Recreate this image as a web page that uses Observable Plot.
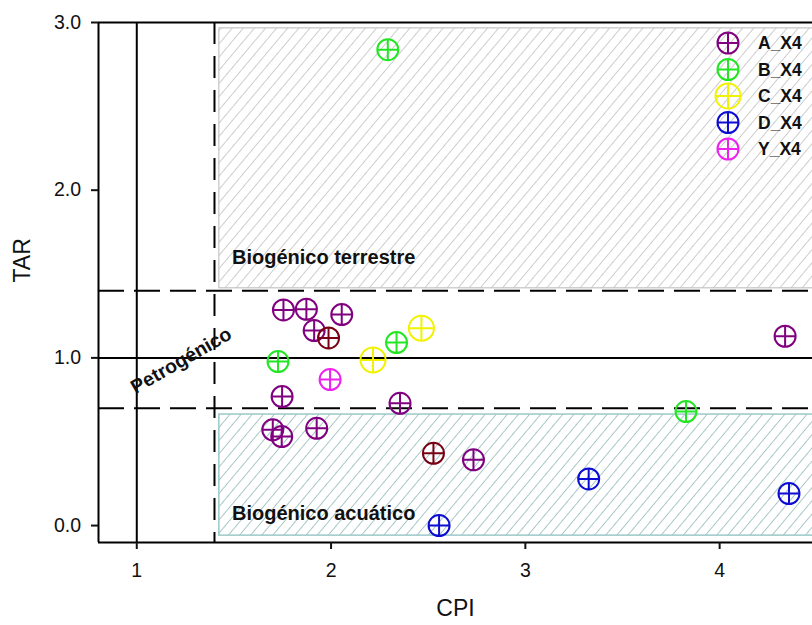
<!DOCTYPE html>
<html><head><meta charset="utf-8">
<script src="https://cdn.jsdelivr.net/npm/d3@7"></script>
<script src="https://cdn.jsdelivr.net/npm/@observablehq/plot@0.6"></script>
<style>
html,body{margin:0;padding:0;background:#fff;}
#wrap{position:relative;width:812px;height:625px;overflow:hidden;background:#fff;}
#legend{position:absolute;left:0;top:0;}
</style></head><body><div id="wrap"></div>
<script>
// ---- data ----
const seriesNames = ["A_X4", "B_X4", "C_X4", "D_X4", "Y_X4"];
const A_cpi = [1.755, 1.873, 2.055, 1.913, 1.748, 2.355, 1.700, 1.746, 1.926, 2.733, 4.337];
const A_tar = [1.286, 1.290, 1.258, 1.163, 0.769, 0.729, 0.571, 0.531, 0.580, 0.392, 1.129];
const A2_cpi = [1.987, 2.527];   // darker (overlapping) A_X4 samples
const A2_tar = [1.119, 0.431];
const B_cpi = [2.292, 1.727, 2.337, 3.827];
const B_tar = [2.838, 0.978, 1.091, 0.680];
const C_cpi = [2.216, 2.465];
const C_tar = [0.988, 1.177];
const D_cpi = [2.556, 3.326, 4.357];
const D_tar = [0.000, 0.278, 0.191];
const Y_cpi = [1.995];
const Y_tar = [0.871];

const xTicks = [1, 2, 3, 4];
const yTicks = [0, 1, 2, 3];
const xTickLabels = ["1", "2", "3", "4"];
const yTickLabels = ["0.0", "1.0", "2.0", "3.0"];

// reference lines
const solidX = [1.0];
const dashedX = [1.4];
const solidY = [1.0];
const dashedY = [1.4, 0.7];

// zones
const zoneNames = ["terrestre", "acuatico"];
const zoneX1 = [1.425, 1.425];
const zoneX2 = [4.7, 4.7];
const zoneY1 = [1.415, -0.06];
const zoneY2 = [2.965, 0.662];

// annotation labels
const noteText = ["Biogénico terrestre", "Biogénico acuático", "Petrogénico"];
const noteCpi = [1.49, 1.49, 1.229];
const noteTar = [1.60, 0.072, 0.984];

// ---- styles ----
const colors = {A_X4: "#800080", A_X4b: "#7a0014", B_X4: "#22e622", C_X4: "#f2f200", D_X4: "#0c0cd2", Y_X4: "#ee22ee"};
const radii = {A_X4: 10.5, A_X4b: 10.5, B_X4: 10.5, C_X4: 12.5, D_X4: 10.5, Y_X4: 10.5};

const zip = (s, xs, ys) => xs.map((x, i) => ({series: s, cpi: x, tar: ys[i]}));
const pts = [
  ...zip("A_X4", A_cpi, A_tar),
  ...zip("A_X4b", A2_cpi, A2_tar),
  ...zip("B_X4", B_cpi, B_tar),
  ...zip("C_X4", C_cpi, C_tar),
  ...zip("D_X4", D_cpi, D_tar),
  ...zip("Y_X4", Y_cpi, Y_tar)
];
const zones = zoneNames.map((n, i) => ({name: n, x1: zoneX1[i], x2: zoneX2[i], y1: zoneY1[i], y2: zoneY2[i]}));
const notes = noteText.map((t, i) => ({t, cpi: noteCpi[i], tar: noteTar[i]}));
const xLab = xTicks.map((v, i) => ({v, t: xTickLabels[i]}));
const yLab = yTicks.map((v, i) => ({v, t: yTickLabels[i]}));

const circlePlus = {
  draw(ctx, size) {
    const r = Math.sqrt(size / Math.PI);
    ctx.moveTo(r, 0);
    ctx.arc(0, 0, r, 0, 2 * Math.PI);
    ctx.moveTo(-r, 0); ctx.lineTo(r, 0);
    ctx.moveTo(0, -r); ctx.lineTo(0, r);
  }
};

const font = "'Liberation Sans', Arial, sans-serif";
const xDom = [0.803, 4.478];
const yDom = [-0.101, 3.0];

const plot = Plot.plot({
  width: 812, height: 625,
  marginLeft: 98, marginRight: 0, marginTop: 22, marginBottom: 83,
  style: {fontFamily: font, fontSize: "19px", color: "#111", background: "transparent", overflow: "visible"},
  x: {domain: xDom},
  y: {domain: yDom},
  r: {type: "identity"},
  color: {type: "identity"},
  marks: [
    Plot.rect(zones.slice(0, 1), {x1: "x1", x2: "x2", y1: "y1", y2: "y2", fill: "url(#hatchGray)", stroke: "#c4c4c4", strokeWidth: 1.2}),
    Plot.rect(zones.slice(1, 2), {x1: "x1", x2: "x2", y1: "y1", y2: "y2", fill: "url(#hatchTeal)", stroke: "#9cc8c8", strokeWidth: 1.5}),
    Plot.ruleX(solidX, {stroke: "#000", strokeWidth: 2}),
    Plot.ruleY(solidY, {stroke: "#000", strokeWidth: 2}),
    Plot.ruleX(dashedX, {stroke: "#000", strokeWidth: 2, strokeDasharray: "22,12"}),
    Plot.ruleY(dashedY, {stroke: "#000", strokeWidth: 2, strokeDasharray: "26,10"}),
    Plot.ruleX([xDom[0]], {stroke: "#000", strokeWidth: 2}),
    Plot.ruleY([yDom[0]], {stroke: "#000", strokeWidth: 2}),
    Plot.ruleY([yDom[1]], {stroke: "#000", strokeWidth: 2}),
    Plot.axisX(xTicks, {tickSize: 7, strokeWidth: 2, tickFormat: () => "", label: null}),
    Plot.axisY(yTicks, {tickSize: 7, strokeWidth: 2, tickFormat: () => "", label: null}),
    Plot.text(xLab, {x: "v", text: "t", frameAnchor: "bottom", dy: 21, lineAnchor: "top", fontSize: 19.5, fill: "#111"}),
    Plot.text(yLab, {y: "v", text: "t", frameAnchor: "left", dx: -17.5, textAnchor: "end", fontSize: 19.5, fill: "#111"}),
    Plot.text(["CPI"], {text: d => d, frameAnchor: "bottom", dy: 73, fontSize: 23}),
    Plot.text(["TAR"], {text: d => d, frameAnchor: "left", dx: -76, rotate: -90, fontSize: 23}),
    Plot.text(notes.slice(0, 2), {x: "cpi", y: "tar", text: "t", textAnchor: "start", fontWeight: "bold", fontSize: 20}),
    Plot.text(notes.slice(2), {x: "cpi", y: "tar", text: "t", rotate: -30, fontWeight: "bold", fontSize: 19.5}),
    Plot.dot(pts, {x: "cpi", y: "tar", symbol: circlePlus, r: d => radii[d.series], stroke: d => colors[d.series], fill: "none", strokeWidth: 2})
  ]
});

const svg = d3.select(plot);
const defs = svg.insert("defs", ":first-child");
function hatch(id, color) {
  const p = defs.append("pattern").attr("id", id).attr("patternUnits", "userSpaceOnUse")
    .attr("width", 8.5).attr("height", 8.5).attr("patternTransform", "rotate(40)");
  p.append("rect").attr("width", 8.5).attr("height", 8.5).attr("fill", "#fff");
  p.append("line").attr("x1", 0).attr("y1", 0).attr("x2", 0).attr("y2", 8.5).attr("stroke", color).attr("stroke-width", 1.6);
}
hatch("hatchGray", "#c2c2c2");
hatch("hatchTeal", "#94baba");

const wrap = document.getElementById("wrap");
wrap.appendChild(plot);

// legend
const legendX = 728, legendY0 = 43, legendStep = 26.5;
const lg = d3.select(wrap).append("svg").attr("id", "legend").attr("width", 812).attr("height", 625);
seriesNames.forEach((name, i) => {
  const g = lg.append("g").attr("transform", `translate(${legendX},${legendY0 + i * legendStep})`);
  const r = radii[name];
  g.append("path").attr("d", `M${r},0A${r},${r} 0 1,1 ${-r},0A${r},${r} 0 1,1 ${r},0M${-r},0L${r},0M0,${-r}L0,${r}`)
    .attr("fill", "none").attr("stroke", colors[name]).attr("stroke-width", 2);
  g.append("text").attr("x", 30).attr("dy", "0.36em").attr("font-family", font).attr("font-weight", "bold")
    .attr("font-size", 17.5).attr("fill", "#111").text(name);
});
</script></body></html>
